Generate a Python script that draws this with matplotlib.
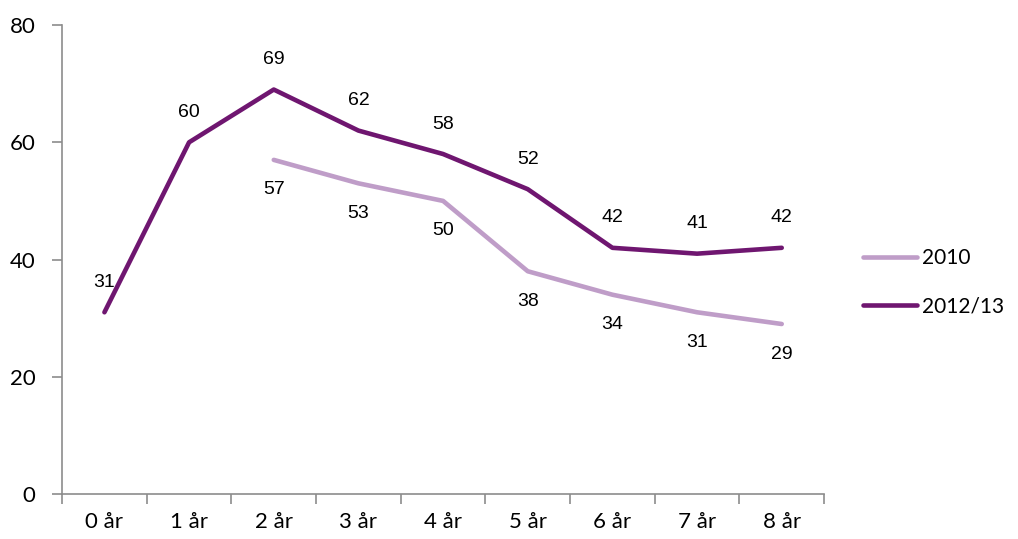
import numpy as np
import matplotlib.pyplot as plt

categories = ['0 år', '1 år', '2 år', '3 år', '4 år', '5 år', '6 år', '7 år', '8 år']
series_2010 = [None, None, 57, 53, 50, 38, 34, 31, 29]
series_2012 = [31, 60, 69, 62, 58, 52, 42, 41, 42]

DARK = '#6f1670'
LIGHT = '#bf9dc8'

fig = plt.figure(figsize=(10.18, 5.39), dpi=100)
ax = fig.add_axes([0.061, 0.0835, 0.7485, 0.87])

x = np.arange(len(categories))
y10 = np.array([np.nan if v is None else v for v in series_2010], dtype=float)
y12 = np.array(series_2012, dtype=float)

ax.plot(x, y10, color=LIGHT, lw=3.3, label='2010', solid_capstyle='round', solid_joinstyle='round')
ax.plot(x, y12, color=DARK, lw=3.3, label='2012/13', solid_capstyle='round', solid_joinstyle='round')

for xi, v in zip(x, series_2012):
    ax.annotate(str(v), (xi, v), xytext=(0, 30), textcoords='offset pixels',
                ha='center', va='center', fontsize=14, family='Liberation Sans')
for xi, v in zip(x, series_2010):
    if v is None:
        continue
    ax.annotate(str(v), (xi, v), xytext=(0, -30), textcoords='offset pixels',
                ha='center', va='center', fontsize=14, family='Liberation Sans')

ax.set_xlim(-0.5, len(categories) - 0.5)
ax.set_ylim(0, 80)
ax.set_yticks([0, 20, 40, 60, 80])
ax.set_xticks(x)
ax.set_xticklabels(categories)
ax.set_xticks(np.arange(-0.5, len(categories)), minor=True)

for s in ['top', 'right']:
    ax.spines[s].set_visible(False)
for s in ['left', 'bottom']:
    ax.spines[s].set_color('#8c8c8c')
    ax.spines[s].set_linewidth(1.2)

ax.tick_params(axis='x', which='major', length=0, pad=13, labelsize=16)
ax.tick_params(axis='x', which='minor', length=7, width=1.2, color='#8c8c8c', direction='out')
ax.tick_params(axis='y', length=7, width=1.2, color='#8c8c8c', direction='out', pad=12, labelsize=16)
for lab in ax.get_xticklabels() + ax.get_yticklabels():
    lab.set_family('Lato')

leg = fig.legend(loc='upper left', bbox_to_anchor=(0.848, 0.54), frameon=False,
                 prop={'family': 'Lato', 'size': 15}, handlelength=2.6,
                 handletextpad=0.2, labelspacing=1.35, borderaxespad=0, borderpad=0)

fig.savefig('out.png', dpi=100)
